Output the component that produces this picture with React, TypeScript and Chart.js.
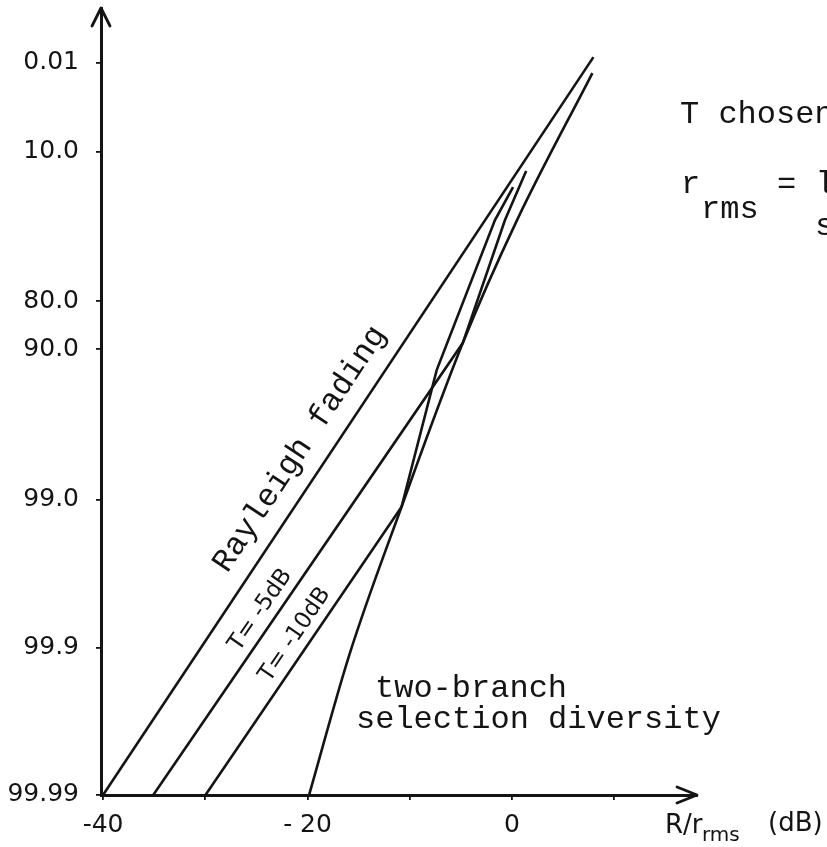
import React, { useEffect, useRef } from 'react';
import { Chart, registerables } from 'chart.js';

Chart.register(...registerables);

// ---- axis ticks ----
const xTickValues = [-40, -30, -20, -10, 0, 10];
const xTickLabels = ['-40', '', '- 20', '', '0', ''];
// exceedance probability (%) printed on the vertical axis
const yTickPercents = [99.99, 99.9, 99.0, 90.0, 80.0, 10.0, 0.01];
const yTickLabels = ['99.99', '99.9', '99.0', '90.0', '80.0', '10.0', '0.01'];

// ---- series (x: R/r_rms in dB, y: Rayleigh-paper level in dB) ----
const rayleighX = [-40, 7.96];
const rayleighY = [-40, 10.03];

const t5X = [-35.09, -4.82, -0.69, 1.38];
const t5Y = [-40, -9.36, -1.02, 2.31];

const t10X = [-29.98, -10.81, -7.37, -1.67, 0.1];
const t10Y = [-40, -20.47, -11.19, -1.02, 1.22];

const divX = [-19.85, -15.92, -10.81, -4.82, 0.49, 7.86];
const divY = [-40, -30.51, -20.47, -9.36, -1.02, 8.95];

// probability-paper transform used by the vertical axis
const toLevel = (p: number) => 10 * Math.log10(-Math.log(p / 100));
const yTickValues = yTickPercents.map(toLevel);

const INK = '#141414';
const zip = (xs: number[], ys: number[]) => xs.map((x, i) => ({ x, y: ys[i] }));

function alongLine(chart: any, dsIndex: number, atX: number) {
  const data = chart.data.datasets[dsIndex].data as { x: number; y: number }[];
  const xs = chart.scales.x;
  const ys = chart.scales.y;
  for (let i = 0; i < data.length - 1; i++) {
    const p = data[i];
    const q = data[i + 1];
    if (atX >= p.x && atX <= q.x) {
      const t = (atX - p.x) / (q.x - p.x);
      const y = p.y + t * (q.y - p.y);
      const x1 = xs.getPixelForValue(p.x);
      const y1 = ys.getPixelForValue(p.y);
      const x2 = xs.getPixelForValue(q.x);
      const y2 = ys.getPixelForValue(q.y);
      return {
        px: xs.getPixelForValue(atX),
        py: ys.getPixelForValue(y),
        angle: Math.atan2(y2 - y1, x2 - x1),
      };
    }
  }
  return null;
}

const lineLabels = [
  { text: 'Rayleigh fading', ds: 0, at: -26.3, offset: 19, font: '32px "Liberation Mono"' },
  { text: 'T= -5dB', ds: 1, at: -25.9, offset: 10, font: '23px "DejaVu Sans"' },
  { text: 'T= -10dB', ds: 2, at: -22.9, offset: 10, font: '23px "DejaVu Sans"' },
];

const decorPlugin = {
  id: 'decor',
  afterDraw(chart: any) {
    const { ctx, chartArea: a } = chart;
    ctx.save();
    ctx.strokeStyle = INK;
    ctx.lineWidth = 2.8;
    ctx.lineCap = 'round';
    ctx.lineJoin = 'round';
    // arrow heads
    ctx.beginPath();
    ctx.moveTo(a.right - 20, a.bottom - 8);
    ctx.lineTo(a.right, a.bottom);
    ctx.lineTo(a.right - 20, a.bottom + 8);
    ctx.stroke();
    ctx.beginPath();
    ctx.moveTo(a.left - 9, a.top + 18);
    ctx.lineTo(a.left, a.top);
    ctx.lineTo(a.left + 9, a.top + 18);
    ctx.stroke();

    ctx.fillStyle = INK;
    ctx.textAlign = 'left';
    ctx.textBaseline = 'alphabetic';

    // labels along the curves
    for (const l of lineLabels) {
      const p = alongLine(chart, l.ds, l.at);
      if (!p) continue;
      const vx = Math.sin(p.angle);
      const vy = -Math.cos(p.angle);
      ctx.save();
      ctx.translate(p.px + vx * l.offset, p.py + vy * l.offset);
      ctx.rotate(p.angle);
      ctx.font = l.font;
      ctx.fillText(l.text, 0, 0);
      ctx.restore();
    }

    // typed annotations
    ctx.font = '32px "Liberation Mono"';
    ctx.fillText('two-branch', 375, 697);
    ctx.fillText('selection diversity', 356, 728);
    ctx.fillText('T chosen', 680, 123);
    ctx.fillText('r', 681, 193);
    ctx.fillText('rms', 701, 218);
    ctx.fillText('= l', 777, 193);
    ctx.fillText('s', 815, 235);

    // axis title
    ctx.font = '26px "DejaVu Sans"';
    ctx.fillText('R/r', 665, 833);
    ctx.font = '20px "DejaVu Sans"';
    ctx.fillText('rms', 702, 841);
    ctx.font = '26px "DejaVu Sans"';
    ctx.fillText('(dB)', 768, 831);
    ctx.restore();
  },
};

function pick(values: number[], labels: string[], v: number) {
  let best = 0;
  for (let i = 1; i < values.length; i++) {
    if (Math.abs(values[i] - v) < Math.abs(values[best] - v)) best = i;
  }
  return Math.abs(values[best] - v) < 1e-6 ? labels[best] : '';
}

export default function App() {
  const ref = useRef<HTMLCanvasElement | null>(null);

  useEffect(() => {
    if (!ref.current) return;
    const lineStyle = {
      borderColor: INK,
      borderWidth: 2.6,
      pointRadius: 0,
      fill: false,
    };
    const chart = new Chart(ref.current, {
      type: 'line',
      data: {
        datasets: [
          { label: 'Rayleigh fading', data: zip(rayleighX, rayleighY), tension: 0, ...lineStyle },
          { label: 'T = -5 dB', data: zip(t5X, t5Y), tension: 0, ...lineStyle },
          { label: 'T = -10 dB', data: zip(t10X, t10Y), tension: 0, ...lineStyle },
          {
            label: 'two-branch selection diversity',
            data: zip(divX, divY),
            cubicInterpolationMode: 'monotone',
            ...lineStyle,
          },
        ],
      },
      options: {
        responsive: false,
        animation: false,
        devicePixelRatio: 1,
        layout: { padding: { left: 0, top: 8, right: 130, bottom: 0 } },
        plugins: { legend: { display: false }, tooltip: { enabled: false } },
        scales: {
          x: {
            type: 'linear',
            min: -40.2,
            max: 18.09,
            afterFit(s: any) {
              s.height = 52;
              s.paddingLeft = 0;
              s.paddingRight = 0;
            },
            afterBuildTicks(s: any) {
              s.ticks = xTickValues.map((v) => ({ value: v }));
            },
            ticks: {
              autoSkip: false,
              maxRotation: 0,
              padding: 10,
              color: INK,
              font: { family: '"DejaVu Sans"', size: 25 },
              callback: (v: any) => pick(xTickValues, xTickLabels, Number(v)),
            },
            grid: {
              display: true,
              drawOnChartArea: false,
              drawTicks: true,
              tickLength: 5,
              color: INK,
              lineWidth: 1.8,
            },
            border: { display: true, color: INK, width: 3 },
          },
          y: {
            type: 'linear',
            min: -40,
            max: 13.36,
            afterFit(s: any) {
              s.width = 101;
              s.paddingTop = 0;
              s.paddingBottom = 0;
            },
            afterBuildTicks(s: any) {
              s.ticks = yTickValues.map((v) => ({ value: v }));
            },
            ticks: {
              autoSkip: false,
              padding: 17,
              color: INK,
              font: { family: '"DejaVu Sans"', size: 25 },
              callback: (v: any) => pick(yTickValues, yTickLabels, Number(v)),
            },
            grid: {
              display: true,
              drawOnChartArea: false,
              drawTicks: true,
              tickLength: 5,
              color: INK,
              lineWidth: 1.8,
            },
            border: { display: true, color: INK, width: 3 },
          },
        },
      },
      plugins: [decorPlugin],
    } as any);
    return () => chart.destroy();
  }, []);

  return (
    <div
      style={{
        position: 'fixed',
        left: 0,
        top: 0,
        width: 827,
        height: 847,
        background: '#ffffff',
      }}
    >
      <canvas ref={ref} width={827} height={847} style={{ display: 'block' }} />
    </div>
  );
}
